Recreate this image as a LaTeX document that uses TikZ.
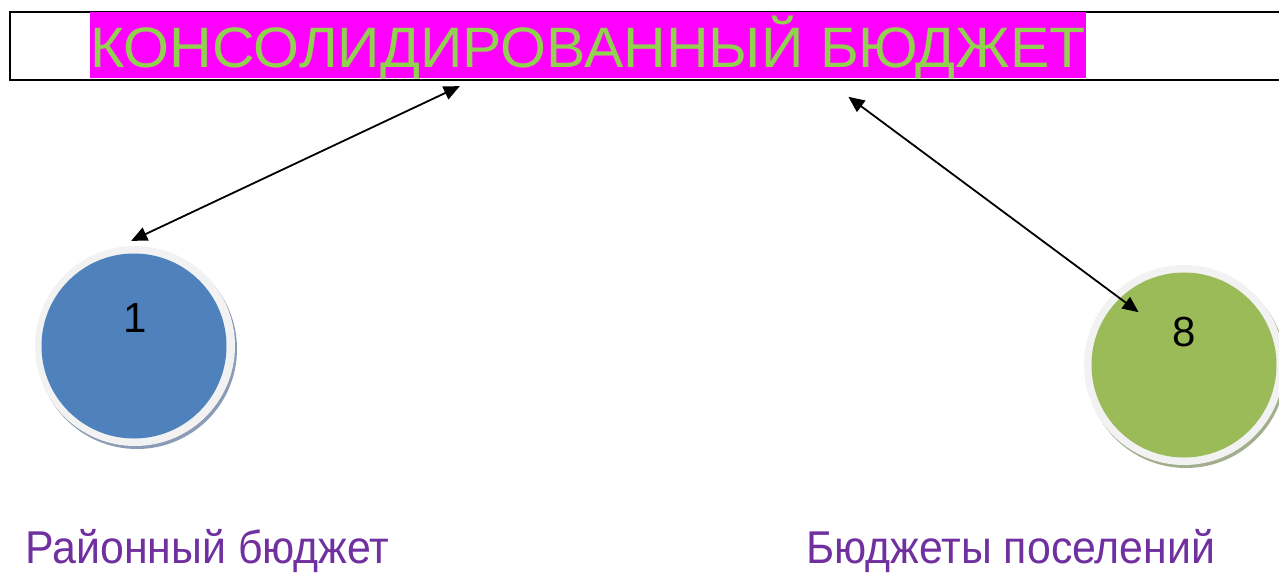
\documentclass[tikz,border=0pt]{standalone}
\usepackage{fontspec}
\setmainfont{Liberation Sans}
\usetikzlibrary{arrows.meta}
\definecolor{titlegreen}{HTML}{92D050}
\definecolor{magentafill}{HTML}{FF00FF}
\definecolor{blueball}{HTML}{4F81BD}
\definecolor{greenball}{HTML}{9BBB59}
\definecolor{ringgray}{HTML}{F2F2F2}
\definecolor{labelpurple}{HTML}{7030A0}
\definecolor{blueedge}{HTML}{8A9BB5}
\definecolor{greenedge}{HTML}{A3AE8E}
\tikzset{
  link/.style={{Triangle[length=16pt,width=14pt]}-{Triangle[length=16pt,width=14pt]}, line width=1.8pt, black, shorten <=-2pt, shorten >=-2pt},
  ring/.style={circle, fill=ringgray, inner sep=0pt, minimum size=200pt},
  ball/.style={circle, inner sep=0pt, minimum size=185pt},
  rim/.style={circle, inner sep=0pt, minimum size=200pt},
  numtext/.style={font=\fontsize{42}{48}\selectfont, text=black, inner sep=0pt},
  labeltext/.style={font=\fontsize{46}{52}\selectfont, text=labelpurple, inner sep=0pt, anchor=base west, xscale=0.932}
}
\begin{document}
\begin{tikzpicture}[x=1pt,y=-1pt]
\useasboundingbox (0,0) rectangle (1279,573);
% title bar
\node[draw=black, line width=2pt, fill=white, minimum width=1290pt, minimum height=68pt, inner sep=0pt, anchor=north west] (bar) at (9,11) {};
\fill[magentafill] (90,12) rectangle (1086,78);
\node[font=\fontsize{57}{60}\selectfont, text=titlegreen, inner sep=0pt, anchor=base west, xscale=1.036] (title) at (90,67) {КОНСОЛИДИРОВАННЫЙ БЮДЖЕТ};
% left ball
\node[rim, fill=blueedge] (lrim) at (137,349) {};
\node[ring] (lring) at (135,346) {};
\node[ball, fill=blueball] (lball) at (134,346) {};
\node[numtext] (lnum) at (135,318) {1};
% right ball
\node[rim, fill=greenedge] (rrim) at (1186,368) {};
\node[ring] (rring) at (1184,365) {};
\node[ball, fill=greenball] (rball) at (1184,365) {};
\node[numtext] (rnum) at (1184,332) {8};
% arrow endpoints
\coordinate (a1) at (458,87);
\coordinate (a2) at (133,240);
\coordinate (b1) at (850,98);
\coordinate (b2) at (1137,311);
\draw[link] (a1) -- (a2);
\draw[link] (b1) -- (b2);
% labels
\node[labeltext] (llab) at (25,563) {Районный бюджет};
\node[labeltext] (rlab) at (806,563) {Бюджеты поселений};
\end{tikzpicture}
\end{document}
